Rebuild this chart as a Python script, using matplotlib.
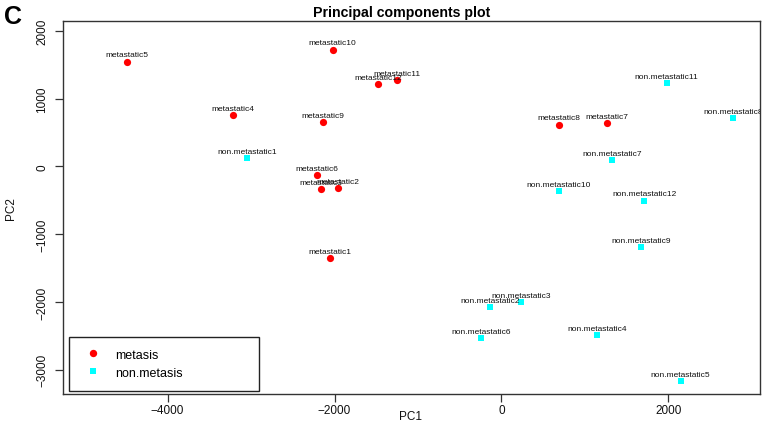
import matplotlib
matplotlib.use("Agg")
import matplotlib.pyplot as plt
from matplotlib.lines import Line2D

plt.rcParams['font.family'] = ['Liberation Sans', 'DejaVu Sans']

met_names = ["metastatic%d" % i for i in range(1, 13)]
met_pc1 = [-2054, -1955, -2159, -3220, -4483, -2210, 1260, 689, -2142, -2022, -1255, -1480]
met_pc2 = [-1357, -316, -335, 761, 1543, -128, 634, 614, 649, 1720, 1268, 1218]

non_names = ["non.metastatic%d" % i for i in range(1, 13)]
non_pc1 = [-3049, -141, 234, 1140, 2147, -242, 1328, 2770, 1668, 689, 1979, 1711]
non_pc2 = [122, -2080, -1997, -2484, -3162, -2537, 97, 712, -1195, -364, 1229, -507]

xticks = [-4000, -2000, 0, 2000]
yticks = [-3000, -2000, -1000, 0, 1000, 2000]

fig = plt.figure(figsize=(7.65, 4.27), dpi=100)
ax = fig.add_axes([63/765, 1-395/427, (760-63)/765, (395-22)/427])

ax.scatter(met_pc1, met_pc2, s=27, c='#FF0000', marker='o', linewidths=0, zorder=3)
ax.scatter(non_pc1, non_pc2, s=17, c='#00FFFF', marker='s', linewidths=0, zorder=3)

for n, x, y in zip(met_names, met_pc1, met_pc2):
    ax.annotate(n, (x, y), xytext=(0, 2.3), textcoords='offset points',
                ha='center', va='bottom', fontsize=6, color='#111111',
                clip_on=True, zorder=4)
for n, x, y in zip(non_names, non_pc1, non_pc2):
    ax.annotate(n, (x, y), xytext=(0, 2.3), textcoords='offset points',
                ha='center', va='bottom', fontsize=6, color='#111111',
                clip_on=True, zorder=4)

ax.set_xlim(-5253, 3097)
ax.set_ylim(-3358, 2143)
ax.set_xticks(xticks)
ax.set_yticks(yticks)
ax.tick_params(axis='both', length=5.5, width=0.9, color='#333333',
               labelsize=8.5, labelcolor='#111111')
ax.tick_params(axis='x', pad=2)
ax.tick_params(axis='y', pad=5, labelrotation=90)
for lbl in ax.get_yticklabels():
    lbl.set_va('center')
for sp in ax.spines.values():
    sp.set_color('#333333')
    sp.set_linewidth(1.0)

fig.text(411/765, 1-417/427, 'PC1', ha='center', va='center', fontsize=8.5, color='#111111')
fig.text(11/765, 1-209/427, 'PC2', ha='center', va='center', rotation=90, fontsize=8.5, color='#111111')
fig.text(402/765, 1-12.7/427, 'Principal components plot', ha='center', va='center',
         fontsize=10.2, fontweight='bold')
fig.text(4/765, 1-17/427, 'C', ha='left', va='center', fontsize=18, fontweight='bold')

handles = [
    Line2D([], [], linestyle='none', marker='o', markersize=5.3, markerfacecolor='#FF0000',
           markeredgewidth=0, label='metasis'),
    Line2D([], [], linestyle='none', marker='s', markersize=4.3, markerfacecolor='#00FFFF',
           markeredgewidth=0, label='non.metasis'),
]
ax_w = 760 - 63
ax_h = 395 - 22
leg = ax.legend(handles=handles, loc='lower left',
                bbox_to_anchor=((69.3-63)/ax_w, (395-391.7)/ax_h, (258.7-69.3)/ax_w, (391.7-335.7)/ax_h),
                mode='expand', fontsize=9, frameon=True, fancybox=False,
                borderpad=0.95, labelspacing=0.5, handlelength=1.9, handletextpad=0.8,
                borderaxespad=0)
leg.get_frame().set_edgecolor('#222222')
leg.get_frame().set_linewidth(1.0)
leg.get_frame().set_alpha(1)

fig.savefig('out.png', dpi=100)
